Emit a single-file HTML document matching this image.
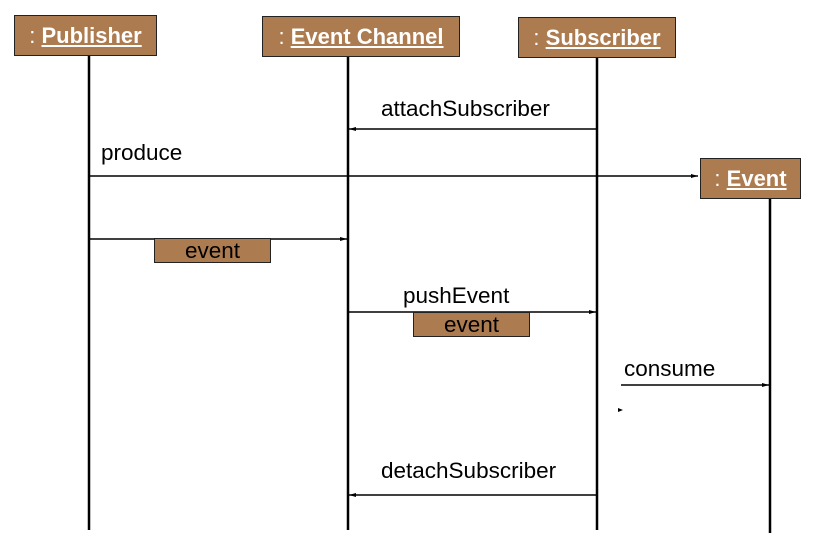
<!DOCTYPE html>
<html><head><style>
body{margin:0;background:#fff;font-family:"Liberation Sans",sans-serif;}
.b{position:absolute;background:#ad7b50;border:1.5px solid #222;box-sizing:border-box;color:#fff;font-size:22px;display:flex;align-items:center;justify-content:center;white-space:nowrap}
.b u{font-weight:bold}
.l{position:absolute;font-size:22.5px;color:#000;white-space:nowrap;line-height:26px}
.e{position:absolute;background:#ad7b50;border:1.5px solid #222;box-sizing:border-box;font-size:22.5px;display:flex;align-items:center;justify-content:center}
</style></head><body>
<svg width="816" height="546" style="position:absolute;left:0;top:0">
<defs><marker id="a" markerUnits="userSpaceOnUse" markerWidth="8" markerHeight="6" refX="7" refY="3" orient="auto"><path d="M0,1L7,3L0,5z" fill="#000"/></marker></defs>
<g stroke="#000" stroke-width="2.5">
<line x1="89" y1="56" x2="89" y2="530"/>
<line x1="348" y1="57" x2="348" y2="530"/>
<line x1="597" y1="58" x2="597" y2="530"/>
<line x1="770" y1="199" x2="770" y2="533"/>
</g>
<g stroke="#000" stroke-width="1.5" marker-end="url(#a)">
<line x1="597" y1="129" x2="349" y2="129"/>
<line x1="89" y1="176" x2="698" y2="176"/>
<line x1="89" y1="239" x2="347" y2="239"/>
<line x1="348" y1="312" x2="596" y2="312"/>
<line x1="621" y1="385" x2="769" y2="385"/>
<line x1="597" y1="495" x2="349" y2="495"/>
</g>
<path d="M618,408L623,410L618,412z" fill="#000"/>
</svg>
<div class="b" style="left:14px;top:15px;width:143px;height:41px">:&nbsp;<u>Publisher</u></div>
<div class="b" style="left:262px;top:16px;width:198px;height:41px">:&nbsp;<u>Event Channel</u></div>
<div class="b" style="left:518px;top:17px;width:158px;height:41px">:&nbsp;<u>Subscriber</u></div>
<div class="b" style="left:700px;top:158px;width:101px;height:41px">:&nbsp;<u>Event</u></div>
<div class="l" style="left:381px;top:96px">attachSubscriber</div>
<div class="l" style="left:101px;top:140px">produce</div>
<div class="e" style="left:154px;top:238px;width:117px;height:25px">event</div>
<div class="l" style="left:403px;top:283px">pushEvent</div>
<div class="e" style="left:413px;top:312px;width:117px;height:25px">event</div>
<div class="l" style="left:624px;top:356px">consume</div>
<div class="l" style="left:381px;top:458px">detachSubscriber</div>
</body></html>
